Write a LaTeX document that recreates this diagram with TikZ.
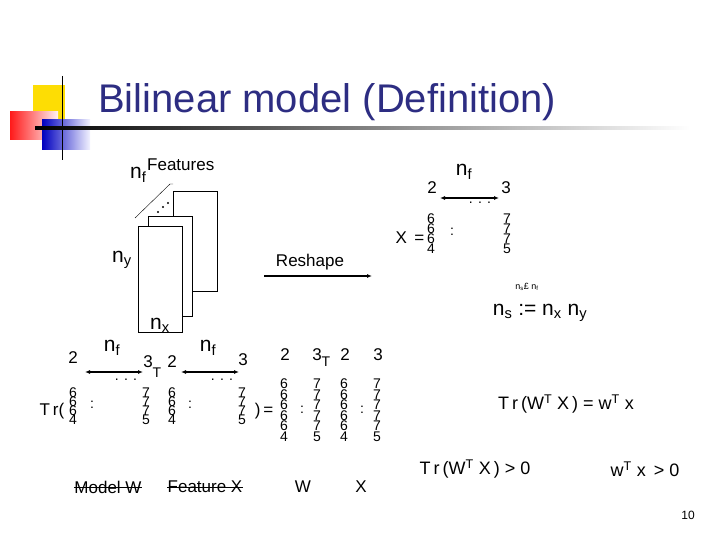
\documentclass[tikz,border=0pt]{standalone}
\usepackage{fontspec}
\setmainfont{Liberation Sans}
\usetikzlibrary{arrows.meta}
\definecolor{ttl}{RGB}{45,45,130}
\newcommand{\dcol}[4]{\foreach \d [count=\i from 0] in {#4} {\node[dg] (c#1-\i) at (#1,#2+\i*#3) {\d};}}
\tikzset{
 dg/.style={inner sep=0pt,font=\fontsize{14}{14}\selectfont},
 lb/.style={inner sep=0pt,font=\fontsize{17}{17}\selectfont},
 big/.style={inner sep=0pt,font=\fontsize{21}{21}\selectfont},
 dbl/.style={{Latex[length=5pt,width=4pt]}-{Latex[length=5pt,width=4pt]},line width=1.3pt},
 page/.style={draw,fill=white,line width=0.6pt}
}
\begin{document}
\begin{tikzpicture}[x=1pt,y=-1pt]
\useasboundingbox (0,0) rectangle (720,540);
% decoration
\fill[yellow!80!orange] (33,85) rectangle (65,120);
\shade[left color=red!90, right color=red!5] (10,112) rectangle (58,140);
\shade[left color=blue!75!black, right color=blue!5] (42,120) rectangle (90,150);
\draw[line width=1pt] (62,76) -- (62,160);
\shade[left color=black, right color=white] (35,127) rectangle (690,129.5);
\node[anchor=west,inner sep=0pt,text=ttl,font=\fontsize{40}{40}\selectfont] (title) at (98,102) {Bilinear model (Definition)};
% stack
\draw[page] (173,191) rectangle (217,291);
\draw[page] (148,216) rectangle (192,316);
\draw[page] (138,226) rectangle (182,332);
\draw (135,218) -- (170,184) -- (173,184);
\fill (158,212) circle (1.2) (163,207) circle (1.2) (168,203) circle (1.2);
\node[big,anchor=west] (nf0) at (130,175) {n\textsubscript{f}};
\node[lb,anchor=west] (feat) at (147,165) {Features};
\node[big] (ny) at (122,260) {n\textsubscript{y}};
\node[big] (nx) at (160,325) {n\textsubscript{x}};
% reshape
\node[lb] (resh) at (310,262) {Reshape};
\coordinate (ra) at (264,276); \coordinate (rb) at (372,276);
\draw[-{Latex[length=5pt,width=4pt]},line width=1.2pt] (ra) -- (rb);
% top right X
\node[lb] (t2) at (432,188) {2};
\node[big] (tnf) at (464,172) {n\textsubscript{f}};
\node[lb] (t3) at (506,188) {3};
\coordinate (u1) at (440,198); \coordinate (u2) at (499,198);
\draw[dbl] (u1) -- (u2);
\node[dg] (tdots) at (480,203) {. . .};
\node[lb] (xeq) at (410,238) {X \,=};
\dcol{431}{219}{10}{6,6,6,4}
\node[dg] (tc) at (452,232) {:};
\dcol{507}{219}{10}{7,7,7,5}
\node[inner sep=0pt,font=\fontsize{9}{9}\selectfont] (nsnf) at (527,287) {n\textsubscript{s}£ n\textsubscript{f}};
\node[big] (ns) at (540,313) {n\textsubscript{s} := n\textsubscript{x} n\textsubscript{y}};
% bottom left
\node[lb] (b2) at (73,358) {2};
\node[big] (bnf1) at (112,348) {n\textsubscript{f}};
\node[lb] (b3) at (148,362) {3};
\node[dg] (bT1) at (157,373) {T};
\node[lb] (b22) at (172,362) {2};
\node[big] (bnf2) at (208,348) {n\textsubscript{f}};
\node[lb] (b33) at (243,360) {3};
\draw[dbl] (85,372) -- (143,372);
\draw[dbl] (181,372) -- (239,372);
\node[dg] (bd1) at (126,380) {. . .};
\node[dg] (bd2) at (222,380) {. . .};
\node[lb] (tr) at (52,411) {T\,r(};
\dcol{73}{393}{9}{6,6,6,4}
\node[dg] (bc1) at (92,405) {:};
\dcol{146}{393}{9}{7,7,7,5}
\dcol{172}{393}{9}{6,6,6,4}
\node[dg] (bc2) at (190,405) {:};
\dcol{242}{393}{9}{7,7,7,5}
\node[lb] (eq) at (264,411) {)\,=};
\node[lb] (r2a) at (285,355) {2};
\node[lb] (r3) at (317,355) {3};
\node[dg] (rT) at (326,362) {T};
\node[lb] (r2b) at (345,355) {2};
\node[lb] (r3b) at (378,355) {3};
\dcol{284}{384}{10.5}{6,6,6,6,6,4}
\node[dg] (rc1) at (302,410) {:};
\dcol{317}{384}{10.5}{7,7,7,7,7,5}
\dcol{344}{384}{10.5}{6,6,6,6,6,4}
\node[dg] (rc2) at (362,410) {:};
\dcol{377}{384}{10.5}{7,7,7,7,7,5}
\node[lb] (mw) at (108,487) {Model W};
\draw (mw.west) -- (mw.east);
\node[lb] (fx) at (205,487) {Feature X};
\draw (fx.west) -- (fx.east);
\node[lb] (lw) at (303,487) {W};
\node[lb] (lx) at (361,487) {X};
% right formulas
\node[inner sep=0pt,font=\fontsize{18}{18}\selectfont] (f1) at (566,404) {T\,r\,(W\textsuperscript{T} X\,) = w\textsuperscript{T} x};
\node[inner sep=0pt,font=\fontsize{18}{18}\selectfont] (f2) at (475,469) {T\,r\,(W\textsuperscript{T} X\,) > 0};
\node[inner sep=0pt,font=\fontsize{18}{18}\selectfont] (f3) at (645,469) {w\textsuperscript{T} x \,> 0};
\node[inner sep=0pt,font=\fontsize{12}{12}\selectfont] (pg) at (688,515) {10};
\end{tikzpicture}
\end{document}
